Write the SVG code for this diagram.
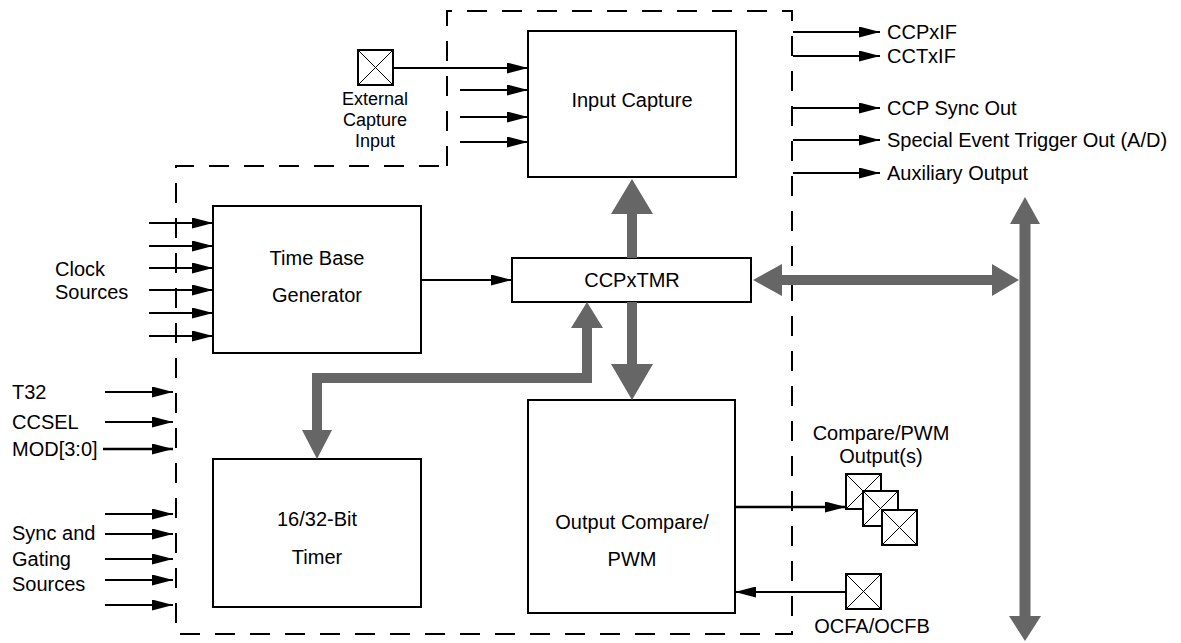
<svg xmlns="http://www.w3.org/2000/svg" width="1181" height="643" viewBox="0 0 1181 643">
<style>
.box{fill:#fff;stroke:#000;stroke-width:2}
.t{font-family:"Liberation Sans",Arial,sans-serif;font-size:20px;fill:#000}
.s{font-size:18px}
.c{text-anchor:middle}
.ln{stroke:#000;stroke-width:2;fill:none}
.thk{stroke:#000;stroke-width:2.6;fill:none}
.dash{stroke:#000;stroke-width:2;fill:none;stroke-dasharray:20 15}
.bus{stroke:#666;stroke-width:10;fill:none;stroke-linejoin:miter}
.hd{fill:#666}
.pin{fill:#fff;stroke:#000;stroke-width:2}
.x{stroke:#000;stroke-width:1}
</style>
<defs>
<marker id="ah" markerUnits="userSpaceOnUse" markerWidth="21" markerHeight="11" refX="21" refY="5.5" orient="auto">
<path d="M0,0 L21,5.5 L0,11 z" fill="#000"/>
</marker>
</defs>
<path class="dash" d="M447,166 L447,11 L792,11 L792,634 L176,634 L176,166 Z"/>
<g id="input-capture"><rect class="box" x="528" y="31" width="208" height="146"/><text class="t c" x="632" y="107">Input Capture</text></g>
<g id="ccpxtmr"><rect class="box" x="512" y="258" width="239" height="44"/><text class="t c" x="632" y="287">CCPxTMR</text></g>
<g id="time-base"><rect class="box" x="213" y="206" width="208" height="147"/><text class="t c" x="317" y="265">Time Base</text><text class="t c" x="317" y="302">Generator</text></g>
<g id="timer"><rect class="box" x="213" y="459" width="208" height="148"/><text class="t c" x="317" y="526">16/32-Bit</text><text class="t c" x="317" y="564">Timer</text></g>
<g id="output-compare"><rect class="box" x="528" y="400" width="207" height="213"/><text class="t c" x="632" y="529">Output Compare/</text><text class="t c" x="632" y="566">PWM</text></g>
<g id="ext-capture-pin"><rect class="pin" x="358" y="50" width="35" height="35"/><path class="x" d="M358,50 L393,85 M393,50 L358,85"/>
<text class="t s c" x="375" y="105">External</text><text class="t s c" x="375" y="126">Capture</text><text class="t s c" x="375" y="147">Input</text></g>
<g id="compare-pwm-pins">
<rect class="pin" x="846" y="474" width="35" height="35"/><path class="x" d="M846,474 L881,509 M881,474 L846,509"/>
<rect class="pin" x="863" y="491" width="35" height="35"/><path class="x" d="M863,491 L898,526 M898,491 L863,526"/>
<rect class="pin" x="882" y="510" width="35" height="35"/><path class="x" d="M882,510 L917,545 M917,510 L882,545"/>
<text class="t c" x="881" y="440">Compare/PWM</text><text class="t c" x="881" y="463">Output(s)</text></g>
<g id="ocf-pin"><rect class="pin" x="846" y="574" width="35" height="35"/><path class="x" d="M846,574 L881,609 M881,574 L846,609"/><text class="t c" x="872" y="633">OCFA/OCFB</text></g>
<g id="labels">
<text class="t" x="55" y="276">Clock</text><text class="t" x="55" y="299">Sources</text>
<text class="t" x="12" y="399">T32</text><text class="t" x="12" y="429">CCSEL</text><text class="t" x="12" y="456">MOD[3:0]</text>
<text class="t" x="12" y="540">Sync and</text><text class="t" x="12" y="566">Gating</text><text class="t" x="12" y="591">Sources</text>
<text class="t" x="887" y="39">CCPxIF</text><text class="t" x="887" y="63">CCTxIF</text>
<text class="t" x="887" y="115">CCP Sync Out</text><text class="t" x="887" y="147">Special Event Trigger Out (A/D)</text><text class="t" x="887" y="180">Auxiliary Output</text>
</g>
<g id="connectors">
<line class="ln" x1="393" y1="68" x2="528" y2="68" marker-end="url(#ah)"/>
<line class="ln" x1="460" y1="90" x2="528" y2="90" marker-end="url(#ah)"/>
<line class="ln" x1="460" y1="117" x2="528" y2="117" marker-end="url(#ah)"/>
<line class="ln" x1="460" y1="142" x2="528" y2="142" marker-end="url(#ah)"/>
<line class="ln" x1="149" y1="223" x2="213" y2="223" marker-end="url(#ah)"/>
<line class="ln" x1="149" y1="246" x2="213" y2="246" marker-end="url(#ah)"/>
<line class="ln" x1="149" y1="268" x2="213" y2="268" marker-end="url(#ah)"/>
<line class="ln" x1="149" y1="290" x2="213" y2="290" marker-end="url(#ah)"/>
<line class="ln" x1="149" y1="313" x2="213" y2="313" marker-end="url(#ah)"/>
<line class="ln" x1="149" y1="336" x2="213" y2="336" marker-end="url(#ah)"/>
<line class="ln" x1="105" y1="392" x2="173" y2="392" marker-end="url(#ah)"/>
<line class="ln" x1="105" y1="422" x2="173" y2="422" marker-end="url(#ah)"/>
<line class="thk" x1="103" y1="449" x2="173" y2="449" marker-end="url(#ah)"/>
<line class="ln" x1="105" y1="514" x2="173" y2="514" marker-end="url(#ah)"/>
<line class="ln" x1="105" y1="534" x2="173" y2="534" marker-end="url(#ah)"/>
<line class="ln" x1="105" y1="559" x2="173" y2="559" marker-end="url(#ah)"/>
<line class="ln" x1="105" y1="580" x2="173" y2="580" marker-end="url(#ah)"/>
<line class="ln" x1="105" y1="605" x2="173" y2="605" marker-end="url(#ah)"/>
<line class="ln" x1="421" y1="280" x2="512" y2="280" marker-end="url(#ah)"/>
<line class="ln" x1="793" y1="32" x2="880" y2="32" marker-end="url(#ah)"/>
<line class="ln" x1="793" y1="56" x2="880" y2="56" marker-end="url(#ah)"/>
<line class="ln" x1="793" y1="108" x2="880" y2="108" marker-end="url(#ah)"/>
<line class="ln" x1="793" y1="140" x2="880" y2="140" marker-end="url(#ah)"/>
<line class="ln" x1="793" y1="173" x2="880" y2="173" marker-end="url(#ah)"/>
<line class="thk" x1="735" y1="507" x2="846" y2="507" marker-end="url(#ah)"/>
<line class="ln" x1="846" y1="592" x2="735" y2="592" marker-end="url(#ah)"/>
<line class="bus" x1="632" y1="213" x2="632" y2="258"/><polygon class="hd" points="632,179 611,214 653,214"/>
<line class="bus" x1="632" y1="302" x2="632" y2="365"/><polygon class="hd" points="611,364 653,364 632,400"/>
<path class="bus" d="M317,431 L317,378 L587,378 L587,327"/><polygon class="hd" points="587,302 571,328 603,328"/><polygon class="hd" points="317,459 302,430 332,430"/>
<line class="bus" x1="781" y1="280" x2="993" y2="280"/><polygon class="hd" points="753,280 782,264 782,296"/><polygon class="hd" points="1019,280 992,264 992,296"/>
<line class="bus" x1="1025" y1="223" x2="1025" y2="617" style="stroke-width:11"/><polygon class="hd" points="1025,197 1010,224 1040,224"/><polygon class="hd" points="1025,641 1009,616 1041,616"/>
</g>
</svg>
